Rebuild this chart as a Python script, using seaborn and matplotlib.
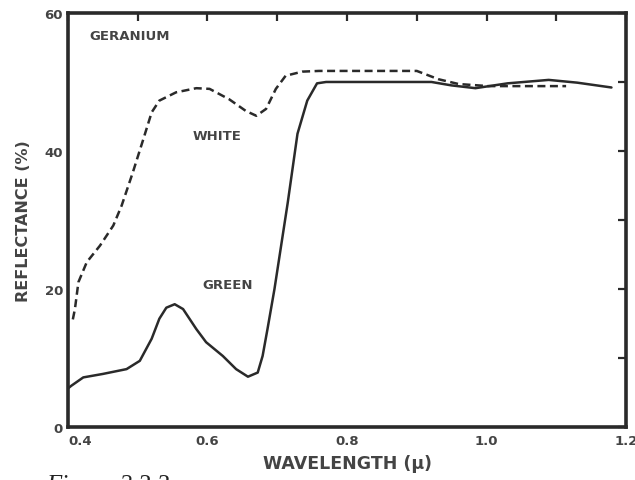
import matplotlib
matplotlib.use("Agg")
import matplotlib.pyplot as plt
import seaborn as sns
import pandas as pd
from matplotlib.ticker import FixedLocator

# Data
green_wl = [0.400, 0.405, 0.422, 0.450, 0.484, 0.503, 0.520, 0.531, 0.541, 0.553,
            0.565, 0.584, 0.598, 0.622, 0.641, 0.658, 0.672, 0.679, 0.686, 0.696,
            0.715, 0.729, 0.743, 0.757, 0.770, 0.900, 0.921, 0.950, 0.984, 1.030,
            1.089, 1.130, 1.179]
green_refl = [5.6, 6.0, 7.2, 7.7, 8.4, 9.6, 12.8, 15.7, 17.3, 17.8,
              17.1, 14.2, 12.3, 10.3, 8.4, 7.3, 7.9, 10.3, 14.2, 20.0,
              32.5, 42.5, 47.3, 49.8, 50.0, 50.0, 50.0, 49.5, 49.1, 49.8,
              50.3, 49.9, 49.2]
white_wl = [0.407, 0.410, 0.415, 0.427, 0.446, 0.465, 0.477, 0.493, 0.508, 0.520,
            0.531, 0.555, 0.584, 0.603, 0.631, 0.655, 0.670, 0.684, 0.698, 0.712,
            0.736, 0.760, 0.900, 0.931, 0.960, 1.003, 1.114]
white_refl = [15.6, 17.1, 21.0, 23.9, 26.3, 29.2, 32.1, 36.9, 41.7, 45.6,
              47.3, 48.5, 49.1, 49.0, 47.5, 45.8, 45.1, 46.1, 49.0, 50.9,
              51.5, 51.6, 51.6, 50.4, 49.7, 49.4, 49.4]
x_tick_labels = ["0.4", "", "0.6", "", "0.8", "", "1.0", "", "1.2"]
y_tick_labels = ["0", "", "20", "", "40", "", "60"]

df = pd.concat([
    pd.DataFrame({"wl": green_wl, "refl": green_refl, "leaf": "GREEN"}),
    pd.DataFrame({"wl": white_wl, "refl": white_refl, "leaf": "WHITE"}),
])

sns.set_style("white")
plt.rcParams["font.family"] = ["DejaVu Sans"]
ink = "#2a2a2a"
txt = "#444444"

fig = plt.figure(figsize=(6.35, 4.81), dpi=100)
ax = fig.add_axes([0.107, 0.110, 0.879, 0.861])

sns.lineplot(data=df, x="wl", y="refl", hue="leaf", style="leaf",
             palette={"GREEN": ink, "WHITE": ink},
             dashes={"GREEN": "", "WHITE": (3.2, 1.8)},
             sort=False, estimator=None, linewidth=1.8, legend=False, ax=ax)
for ln in ax.get_lines():
    ln.set_solid_joinstyle("round")
    ln.set_dash_joinstyle("round")

ax.set_xlim(0.4, 1.2)
ax.set_ylim(0, 60)
ax.xaxis.set_major_locator(FixedLocator([0.4 + 0.1 * i for i in range(9)]))
ax.yaxis.set_major_locator(FixedLocator([10 * i for i in range(7)]))
ax.set_xticklabels(x_tick_labels)
ax.set_yticklabels(y_tick_labels)
ax.tick_params(direction="in", length=6, width=1.6, colors=ink,
               top=True, right=True, labelsize=9.5)
ax.tick_params(axis="x", pad=5)
for lab in ax.get_xticklabels() + ax.get_yticklabels():
    lab.set_fontweight("bold")
    lab.set_color(txt)
ax.get_xticklabels()[0].set_horizontalalignment("left")
for sp in ax.spines.values():
    sp.set_visible(True)
    sp.set_linewidth(2.6)
    sp.set_color(ink)

ax.set_xlabel("WAVELENGTH (μ)", fontsize=12.5, fontweight="bold", color=txt, labelpad=5)
ax.set_ylabel("REFLECTANCE (%)", fontsize=11.5, fontweight="bold", color=txt, labelpad=10)

ax.text(0.431, 56.7, "GERANIUM", fontsize=9.5, fontweight="bold", color=txt, va="center")
ax.text(0.613, 42.2, "WHITE", fontsize=9.5, fontweight="bold", color=txt, va="center", ha="center")
ax.text(0.629, 20.7, "GREEN", fontsize=9.5, fontweight="bold", color=txt, va="center", ha="center")

fig.text(0.072, -0.022, "Figure 2.3.3", fontsize=18, fontstyle="italic",
         family=["Liberation Serif", "DejaVu Serif"], color="#222222")

fig.savefig("out.png", dpi=100)
